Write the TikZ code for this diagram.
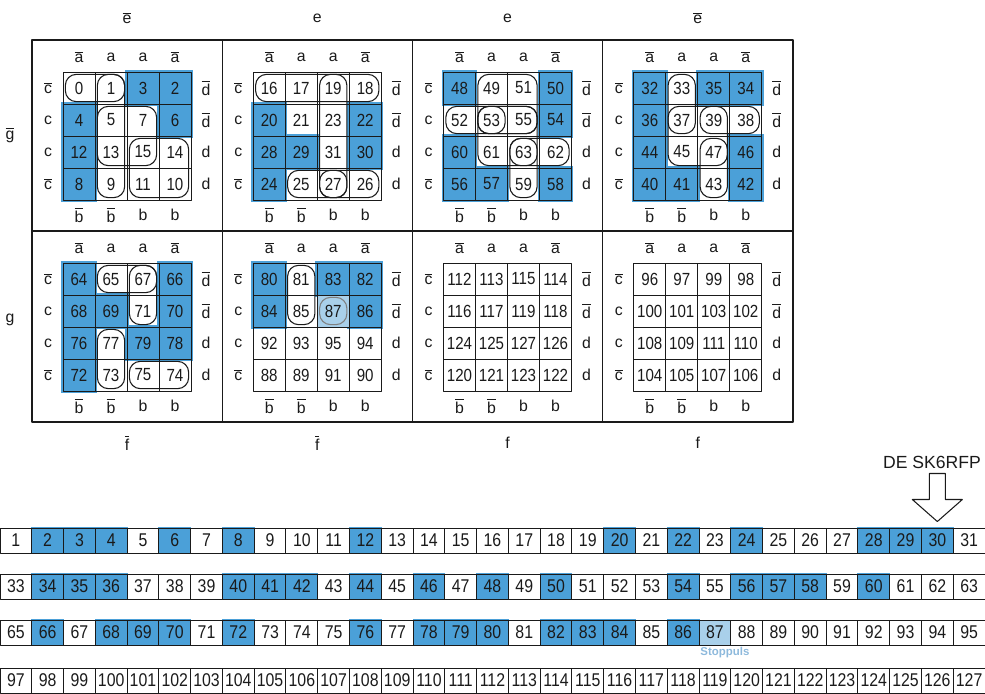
\documentclass[tikz,border=0pt]{standalone}
\usepackage{fontspec}
\setmainfont{Liberation Sans}
\newfontfamily\digitfont[FakeStretch=0.86]{Liberation Sans}
\usetikzlibrary{positioning,calc,fit,backgrounds}
\definecolor{kblue}{HTML}{4BA0D8}
\definecolor{kpale}{HTML}{A9D0EA}
\definecolor{stoptext}{HTML}{8DB9DC}
\definecolor{ink}{HTML}{1A1A1A}
\newcommand{\ovl}[1]{$\overline{\mbox{#1}}$}
\tikzset{
    every picture/.style={line cap=round,line join=round},
    kcell/.style={draw=ink,line width=0.45pt,minimum size=6.4mm,inner sep=0pt,
      font=\digitfont\fontsize{10}{11}\selectfont,text=ink},
    scell/.style={draw=ink,line width=0.55pt,minimum width=6.355mm,minimum height=5mm,
      inner sep=0pt,font=\digitfont\fontsize{10.5}{12}\selectfont,text=ink},
    maplabel/.style={inner sep=0pt,font=\fontsize{9}{11}\selectfont,text=ink},
    loopbox/.style={draw=ink,line width=0.6pt,rounded corners=2.2mm,inner sep=-0.55mm},
    frame/.style={draw=ink,line width=0.7pt},
    hollowarrow/.style={draw=ink,line width=0.6pt,fill=white}
}

\begin{document}
\begin{tikzpicture}[x=0.2mm,y=-0.2mm]
  \useasboundingbox (0,0) rectangle (985,694);

  % frame of the eight maps
  \draw[frame] (32,40) rectangle (793,422);
  \foreach \xx in {222.25,412.5,602.75} \draw[frame] (\xx,40) -- (\xx,422);
  \draw[frame] (32,231) -- (793,231);

  % the maps: base number / column / row
  \foreach \base/\i/\j in {0/0/0,16/1/0,48/2/0,32/3/0,64/0/1,80/1/1,112/2/1,96/3/1} {
    \pgfmathsetmacro\px{32+190.25*\i}
    \pgfmathsetmacro\py{40+191*\j}
    \foreach \r/\offs in {0/{0,1,3,2},1/{4,5,7,6},2/{12,13,15,14},3/{8,9,11,10}} {
      \foreach \o [count=\k from 0] in \offs {
        \pgfmathtruncatemacro\n{\base+\o}
        \node[kcell] (c\n) at ({\px+47+32*\k},{\py+48+32*\r}) {\n};
      }
    }
    \foreach \t [count=\k from 0] in {\ovl{a},a,a,\ovl{a}}
      \node[maplabel] (top\i\j\k) at ({\px+47+32*\k},{\py+17}) {\t};
    \foreach \t [count=\k from 0] in {\ovl{b},\ovl{b},b,b}
      \node[maplabel] (bot\i\j\k) at ({\px+47+32*\k},{\py+175}) {\t};
    \foreach \t [count=\k from 0] in {\ovl{c},c,c,\ovl{c}}
      \node[maplabel] (lft\i\j\k) at ({\px+16},{\py+48+32*\k}) {\t};
    \foreach \t [count=\k from 0] in {\ovl{d},\ovl{d},d,d}
      \node[maplabel] (rgt\i\j\k) at ({\px+174},{\py+48+32*\k}) {\t};
  }

  % variables e, f, g
  \foreach \t [count=\k from 0] in {\ovl{e},e,e,\ovl{e}}
    \node[maplabel] (ev\k) at ({127+190.25*\k},18) {\t};
  \foreach \t [count=\k from 0] in {\ovl{f},\ovl{f},f,f}
    \node[maplabel] (fv\k) at ({127+190.25*\k},443) {\t};
  \node[maplabel] (gbar) at (10,135) {\ovl{g}};
  \node[maplabel] (gv) at (10,320) {g};

  % loops
  \foreach \grp in {{(c0)(c1)},{(c1)(c9)},{(c5)(c15)},{(c15)(c10)},
                    {(c16)(c18)},{(c19)(c27)},{(c25)(c27)},{(c27)(c26)},
                    {(c49)(c55)},{(c53)(c63)},{(c52)(c55)},{(c53)},{(c63)(c62)},{(c63)(c59)},
                    {(c33)(c37)},{(c37)(c47)},{(c39)(c38)},{(c47)(c43)},
                    {(c65)(c67)},{(c67)(c71)},{(c77)(c73)},{(c75)(c74)},
                    {(c81)(c85)}}
    \node[loopbox,fit=\grp] {};
  \node[loopbox,draw=gray,fit=(c87)] (stopring) {};

  % strips of cells 1..127
  \foreach \s/\top in {1/528,33/574,65/620,97/668} {
    \foreach \k in {0,...,30} {
      \pgfmathtruncatemacro\n{\s+\k}
      \node[scell] (s\n) at ({31.774*\k+15.887},{\top+12.5}) {\n};
    }
  }

  \begin{scope}[on background layer]
    \foreach \n in {2,3,4,6,8,12,20,22,24,28,29,30,48,50,54,56,57,58,60,
                    32,34,35,36,40,41,42,44,46,64,66,68,69,70,72,76,78,79,
                    80,82,83,84,86}
      \fill[kblue] ($(c\n.north west)+(-1.5,-1.5)$) rectangle ($(c\n.south east)+(1.5,1.5)$);
    \fill[kpale] (c87.north west) rectangle (c87.south east);
    \foreach \n in {2,3,4,6,8,12,20,22,24,28,29,30,34,35,36,40,41,42,44,46,48,50,
                    54,56,57,58,60,66,68,69,70,72,76,78,79,80,82,83,84,86}
      \fill[kblue] ($(s\n.north west)+(0,-1)$) rectangle ($(s\n.south east)+(0,1)$);
    \fill[kpale] (s87.north west) rectangle (s87.south east);
  \end{scope}

  \node[below=0.3mm of s87,xshift=2mm,inner sep=0pt,text=stoptext,
        font=\fontsize{6.5}{7}\selectfont\bfseries] (stop) {Stoppuls};

  % marker above cell 30
  \coordinate (tip) at ($(s30.north)+(0,-6)$);
  \draw[hollowarrow] (tip) -- ++(-25,-22) -- ++(17,0) -- ++(0,-26) -- ++(16,0)
    -- ++(0,26) -- ++(17,0) -- cycle;
  \node[inner sep=0pt,font=\fontsize{10}{12}\selectfont,text=ink] (call) at (932,462) {DE SK6RFP};
\end{tikzpicture}
\end{document}
